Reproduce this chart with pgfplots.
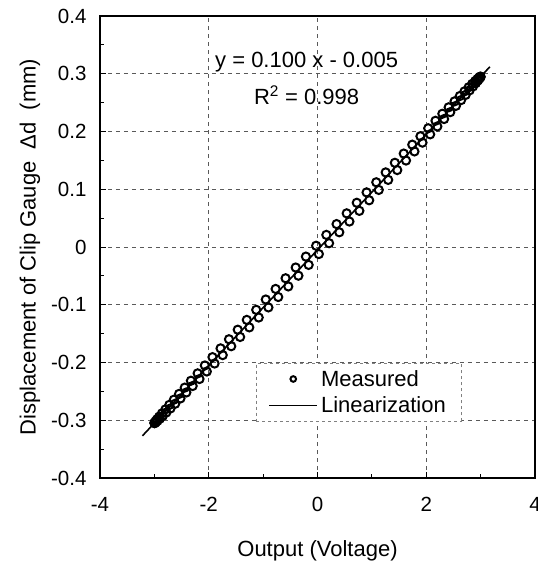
\documentclass[border=0pt]{standalone}
\usepackage{pgfplots}
\pgfplotsset{compat=1.18}
\usepackage{fontspec}
\setmainfont{Liberation Sans}
\begin{document}
\begin{tikzpicture}[font=\fontsize{20}{24}\selectfont]
\begin{axis}[
  name=ax,
  scale only axis,
  width=435pt, height=462pt,
  xmin=-4, xmax=4, ymin=-0.4, ymax=0.4,
  xtick={-4,-2,0,2,4},
  ytick={-0.4,-0.3,-0.2,-0.1,0,0.1,0.2,0.3,0.4},
  minor xtick={-3,-1,1,3},
  minor ytick={-0.35,-0.25,-0.15,-0.05,0.05,0.15,0.25,0.35},
  tick pos=left,
  tick align=inside,
  major tick length=6pt, minor tick length=4pt,
  every tick/.style={black, line width=0.8pt},
  /pgf/number format/assume math mode=true,
  ticklabel style={font=\fontsize{20.5}{24}\selectfont},
  yticklabel style={/pgf/number format/fixed, /pgf/number format/precision=1, xshift=-10pt},
  xticklabel style={yshift=-16pt},
  grid=major,
  major grid style={gray!70!black, dashed, line width=0.7pt, dash pattern=on 4pt off 4pt},
  axis line style={line width=1.8pt},
  xlabel={Output (Voltage)},
  ylabel={Displacement of Clip Gauge\ \ Δd\ \ (mm)},
  label style={font=\fontsize{22}{26}\selectfont},
  xlabel style={yshift=-22pt},
  ylabel style={yshift=4pt},
  legend style={at={(0.359,0.249)}, anchor=north west, draw=gray, dashed, line width=0.6pt,
     inner xsep=12pt, inner ysep=6pt, row sep=7pt, font=\fontsize{22}{26}\selectfont,
     nodes={inner xsep=3pt, inner ysep=1pt}},
  legend cell align=left,
  clip=false,
]
\addplot[only marks, mark=o, mark size=4.1pt, mark options={solid, line width=2pt, fill=white}, draw=black,
  legend image code/.code={\draw[solid, black, only marks, mark=o, mark size=2.8pt, line width=1.5pt] plot coordinates {(24pt,0pt)};}] coordinates {
(-3.000,-0.3050) (-2.996,-0.3040) (-2.979,-0.3017) (-2.952,-0.2983) (-2.912,-0.2938)
(-2.861,-0.2881) (-2.798,-0.2813) (-2.725,-0.2734) (-2.641,-0.2644) (-2.546,-0.2544)
(-2.442,-0.2435) (-2.328,-0.2316) (-2.204,-0.2188) (-2.072,-0.2051) (-1.931,-0.1907)
(-1.783,-0.1755) (-1.628,-0.1597) (-1.467,-0.1432) (-1.300,-0.1262) (-1.127,-0.1088)
(-0.951,-0.0909) (-0.770,-0.0726) (-0.587,-0.0541) (-0.401,-0.0355) (-0.213,-0.0166)
(-0.025,0.0022) (0.163,0.0210) (0.351,0.0397) (0.537,0.0583) (0.722,0.0766)
(0.903,0.0946) (1.081,0.1121) (1.254,0.1292) (1.423,0.1458) (1.586,0.1618)
(1.743,0.1772) (1.893,0.1918) (2.036,0.2056) (2.170,0.2186) (2.296,0.2307)
(2.412,0.2419) (2.520,0.2522) (2.617,0.2614) (2.703,0.2695) (2.780,0.2766)
(2.845,0.2825) (2.900,0.2874) (2.942,0.2910) (2.973,0.2935) (2.992,0.2949) (3.000,0.2950)
(-2.992,-0.3049) (-2.973,-0.3035) (-2.942,-0.3010) (-2.900,-0.2974)
(-2.845,-0.2925) (-2.780,-0.2866) (-2.703,-0.2795) (-2.617,-0.2714) (-2.520,-0.2622)
(-2.412,-0.2519) (-2.296,-0.2407) (-2.170,-0.2286) (-2.036,-0.2156) (-1.893,-0.2018)
(-1.743,-0.1872) (-1.586,-0.1718) (-1.423,-0.1558) (-1.254,-0.1392) (-1.081,-0.1221)
(-0.903,-0.1046) (-0.722,-0.0866) (-0.537,-0.0683) (-0.351,-0.0497) (-0.163,-0.0310)
(0.025,-0.0122) (0.213,0.0066) (0.401,0.0255) (0.587,0.0441) (0.770,0.0626)
(0.951,0.0809) (1.127,0.0988) (1.300,0.1162) (1.467,0.1332) (1.628,0.1497)
(1.783,0.1655) (1.931,0.1807) (2.072,0.1951) (2.204,0.2088) (2.328,0.2216)
(2.442,0.2335) (2.546,0.2444) (2.641,0.2544) (2.725,0.2634) (2.798,0.2713)
(2.861,0.2781) (2.912,0.2838) (2.952,0.2883) (2.979,0.2917) (2.996,0.2940)
};
\addlegendentry{Measured}
\addplot[black, solid, line width=1.6pt,
  legend image code/.code={\draw[solid, black, line width=1.6pt] (0pt,0pt) -- (48pt,0pt);}] coordinates {(-3.22,-0.327) (3.17,0.312)};
\addlegendentry{Linearization}
\node[font=\fontsize{22}{26}\selectfont] at (axis cs:-0.2,0.32) {y = 0.100 x - 0.005};
\node[font=\fontsize{22}{26}\selectfont] at (axis cs:-0.2,0.263) {R\textsuperscript{2} = 0.998};
\end{axis}
\pgfresetboundingbox
\path ([xshift=-100pt,yshift=-85pt]ax.south west) rectangle ([xshift=3pt,yshift=16pt]ax.north east);
\end{tikzpicture}
\end{document}
